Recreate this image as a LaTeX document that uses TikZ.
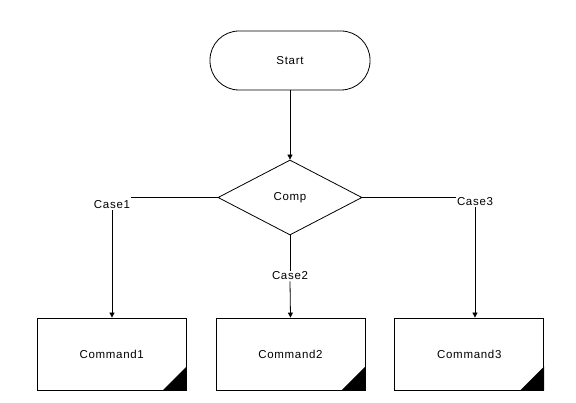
\documentclass[tikz,border=0pt]{standalone}
\usepackage{fontspec}
\setmainfont{Liberation Sans}[LetterSpace=6]
\usetikzlibrary{arrows.meta,positioning,shapes.geometric}
\tikzset{
  base/.style={draw, line width=0.8pt, align=center, inner sep=0pt, font=\fontsize{11.5}{13}\selectfont},
  term/.style={base, rounded corners=29pt, minimum width=160pt, minimum height=59pt},
  decide/.style={base, diamond, minimum width=144pt, minimum height=75pt},
  cmdbox/.style={base, minimum width=149pt, minimum height=72pt},
  caselbl/.style={inner sep=1pt, font=\fontsize{11.5}{13}\selectfont},
  link/.style={line width=0.8pt},
  arrow/.style={link, -{Triangle[length=5pt, width=5pt]}}
}
\begin{document}
\begin{tikzpicture}[x=1pt, y=1pt]
\useasboundingbox (0,0) rectangle (576,-403);
\node[term] (start) at (290,-60.5) {Start};
\node[decide] (comp) at (290,-197.5) {Comp};
\node[cmdbox] (cmd2) at (290.5,-354) {Command2};
\node[cmdbox, left=29pt of cmd2] (cmd1) {Command1};
\node[cmdbox, right=29pt of cmd2] (cmd3) {Command3};
\node[caselbl] (case1) at (112,-205) {Case1};
\node[caselbl] (case2) at (290,-276) {Case2};
\node[caselbl] (case3) at (475,-202) {Case3};
% corner marks
\foreach \b in {cmd1,cmd2,cmd3}
  \fill (\b.south east) -- ++(-24,0) -- ++(24,24) -- cycle;
\draw[arrow] (start) -- (comp);
\draw[link] (comp.west) -- (comp.west -| case1.east);
\draw[link] (comp.east) -- (comp.east -| case3.west);
\draw[link] (comp.south) -- (case2.north);
\draw[arrow] (case1.south) -- (case1.south |- cmd1.north);
\draw[arrow] (case2.south) -- (cmd2.north);
\draw[arrow] (case3.south) -- (case3.south |- cmd3.north);
\end{tikzpicture}
\end{document}
